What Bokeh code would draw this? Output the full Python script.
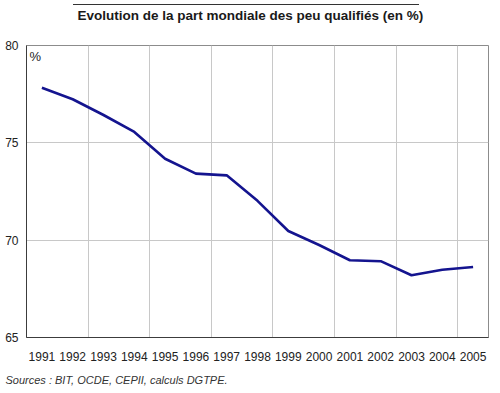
from bokeh.plotting import figure
from bokeh.models import Range1d, FixedTicker, Label, Title, Div
from bokeh.layouts import column
from bokeh.embed import file_html
from bokeh.resources import INLINE

# Data
years = [1991, 1992, 1993, 1994, 1995, 1996, 1997, 1998, 1999, 2000,
         2001, 2002, 2003, 2004, 2005]
share = [77.83, 77.24, 76.43, 75.56, 74.18, 73.42, 73.33, 72.02, 70.47, 69.75,
         68.97, 68.92, 68.20, 68.48, 68.62]
y_ticks = [65, 70, 75, 80]
title_text = "Evolution de la part mondiale des peu qualifiés (en %)"
unit_text = "%"
source_text = "Sources : BIT, OCDE, CEPII, calculs DGTPE."

FONT = "Liberation Sans"

# thin rule drawn above the title
rule = Div(text="", width=346, height=1, margin=(4, 0, 0, 73),
           styles={"background-color": "#333333"})

p = figure(width=500, height=388, output_backend="svg", toolbar_location=None,
           x_range=Range1d(years[0] - 0.5, years[-1] + 0.5),
           y_range=Range1d(y_ticks[0], y_ticks[-1]),
           min_border_left=26, min_border_right=12, min_border_top=39,
           min_border_bottom=52, margin=(0, 0, 0, 0))
p.title.text = title_text
p.title.align = "left"
p.title.offset = 51
p.title.standoff = 1
p.title.text_font = FONT
p.title.text_font_style = "bold"
p.title.text_font_size = "13.5px"
p.title.text_color = "#1a1a1a"

# empty spacer between title and plot area
p.add_layout(Title(text=" ", text_font_size="17.5px", standoff=0,
                   text_color="white"), "above")

p.background_fill_color = "white"
p.border_fill_color = "white"
p.outline_line_color = "#8c8c8c"
p.outline_line_width = 1

p.line(years, share, line_color="#14148f", line_width=2.6)

# axes
p.xaxis.ticker = FixedTicker(ticks=years)
p.yaxis.ticker = FixedTicker(ticks=y_ticks)
for ax in (p.xaxis[0], p.yaxis[0]):
    ax.major_tick_out = 0
    ax.major_tick_in = 0
    ax.minor_tick_out = 0
    ax.minor_tick_in = 0
    ax.major_tick_line_color = None
    ax.minor_tick_line_color = None
    ax.axis_line_color = "#3c3c3c"
    ax.axis_line_width = 1
    ax.major_label_text_font = FONT
    ax.major_label_text_font_size = "12px"
    ax.major_label_text_color = "#222222"
p.xaxis.major_label_standoff = 14
p.yaxis.major_label_standoff = 8

# grid
p.xgrid.ticker = FixedTicker(ticks=[y + 0.5 for y in years[1:-1:2]])
p.ygrid.ticker = FixedTicker(ticks=y_ticks[1:-1])
p.xgrid.grid_line_color = "#c8c8c8"
p.ygrid.grid_line_color = "#c8c8c8"

# texts
p.add_layout(Label(x=3, y=281, x_units="screen", y_units="screen",
                   text=unit_text, text_font=FONT, text_font_size="13px",
                   text_color="#222222", text_baseline="alphabetic"))
src = Title(text=source_text, align="left", offset=-21, standoff=16,
            text_font=FONT, text_font_style="italic", text_font_size="11px",
            text_color="#333333")
p.add_layout(src, "below")

layout = column(rule, p, spacing=0)
open("out.html", "w").write(file_html(layout, INLINE))
